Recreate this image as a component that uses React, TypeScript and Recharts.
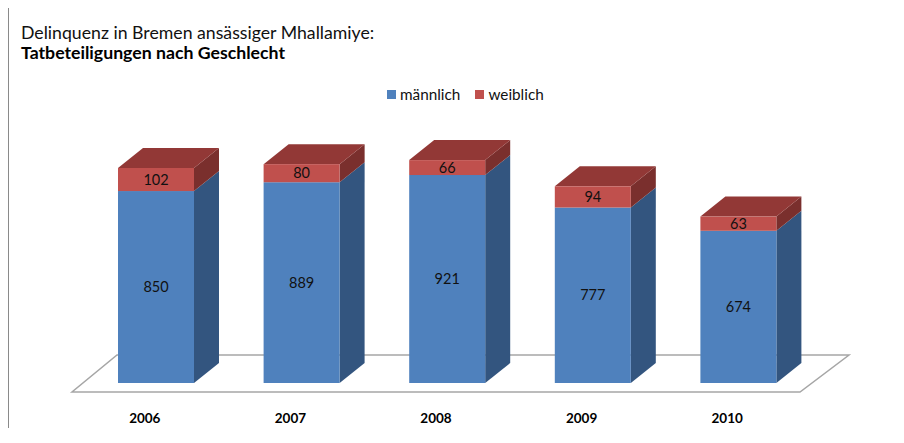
import React from "react";
import { BarChart, Bar, XAxis, YAxis, LabelList, Customized } from "recharts";

const years = ["2006", "2007", "2008", "2009", "2010"];
const maennlich = [850, 889, 921, 777, 674];
const weiblich = [102, 80, 66, 94, 63];

const data = years.map((year, i) => ({
  year,
  maennlich: maennlich[i],
  weiblich: weiblich[i],
}));

const W = 890;
const H = 420;
const margin = { top: 104, right: 88, bottom: 15, left: 74 };
const plotBottom = H - margin.bottom - 30;
const plotLeft = margin.left;
const plotRight = W - margin.right;

const DX = 25;
const DY = 20;
const FONT = "Lato, 'Open Sans', sans-serif";
const FRAME = "#8a8a8a";

const BLUE = { front: "#4f81bd", side: "#33557f", top: "#3d6494" };
const RED = { front: "#c0504d", side: "#7a2f2d", top: "#923836" };

function Box3D(props: any) {
  const { x, y, width, height, colors, showTop } = props;
  if (height == null || width == null) return null;
  const r = x + width;
  const b = y + height;
  return (
    <g>
      <polygon
        points={`${r},${y} ${r + DX},${y - DY} ${r + DX},${b - DY} ${r},${b}`}
        fill={colors.side}
      />
      {showTop && (
        <polygon
          points={`${x},${y} ${x + DX},${y - DY} ${r + DX},${y - DY} ${r},${y}`}
          fill={colors.top}
        />
      )}
      <rect x={x} y={y} width={width} height={height} fill={colors.front} />
    </g>
  );
}

function Floor() {
  const fy = plotBottom + 9;
  const by = plotBottom - 28;
  return (
    <polygon
      points={`${plotLeft - 11},${fy} ${plotRight - 11},${fy} ${plotRight + 38},${by} ${plotLeft + 34},${by}`}
      fill="#ffffff"
      stroke="#a6a6a6"
      strokeWidth={1.5}
    />
  );
}

function LegendBox() {
  const items = [
    { label: "männlich", color: BLUE.front },
    { label: "weiblich", color: RED.front },
  ];
  return (
    <div
      style={{
        position: "absolute",
        left: 379,
        top: 77,
        display: "flex",
        alignItems: "center",
        fontFamily: FONT,
        fontSize: 15.3,
        lineHeight: "18px",
        color: "#111",
      }}
    >
      {items.map((it) => (
        <div key={it.label} style={{ display: "flex", alignItems: "center", marginRight: 15 }}>
          <span style={{ width: 9, height: 9, background: it.color, marginRight: 4, display: "inline-block" }} />
          <span>{it.label}</span>
        </div>
      ))}
    </div>
  );
}

export default function App() {
  return (
    <div style={{ position: "relative", width: W, height: H, background: "#fff", fontFamily: FONT }}>
      <svg
        width={W + 4}
        height={H + 10}
        style={{ position: "absolute", left: -2, top: -3, overflow: "visible" }}
      >
        <polyline points={`${W + 20},2 2,2 2,${H + 30}`} fill="none" stroke={FRAME} strokeWidth={2} />
      </svg>
      <div style={{ position: "absolute", left: 13, top: 15, fontSize: 17.7, lineHeight: "20px", color: "#111", whiteSpace: "nowrap" }}>
        Delinquenz in Bremen ansässiger Mhallamiye:
      </div>
      <div style={{ position: "absolute", left: 13, top: 35, fontSize: 17.7, lineHeight: "20px", fontWeight: "bold", color: "#000", whiteSpace: "nowrap" }}>
        Tatbeteiligungen nach Geschlecht
      </div>
      <LegendBox />
      <div style={{ position: "absolute", left: 1, top: 0 }}>
        <BarChart width={W} height={H} data={data} margin={margin}>
          <Customized component={Floor} />
          <XAxis
            dataKey="year"
            axisLine={false}
            tickLine={false}
            tickMargin={24}
            tick={{ fontSize: 13.5, fontWeight: "bold", fill: "#000", fontFamily: FONT, dx: -11 }}
          />
          <YAxis hide domain={[0, 1200]} />
          <Bar
            dataKey="maennlich"
            name="männlich"
            stackId="a"
            barSize={76}
            isAnimationActive={false}
            shape={(p: any) => <Box3D {...p} colors={BLUE} showTop={false} />}
          >
            <LabelList dataKey="maennlich" position="center" fill="#111" fontSize={14.5} fontFamily={FONT} />
          </Bar>
          <Bar
            dataKey="weiblich"
            name="weiblich"
            stackId="a"
            barSize={76}
            isAnimationActive={false}
            shape={(p: any) => <Box3D {...p} colors={RED} showTop={true} />}
          >
            <LabelList dataKey="weiblich" position="center" fill="#111" fontSize={14.5} fontFamily={FONT} />
          </Bar>
        </BarChart>
      </div>
    </div>
  );
}
